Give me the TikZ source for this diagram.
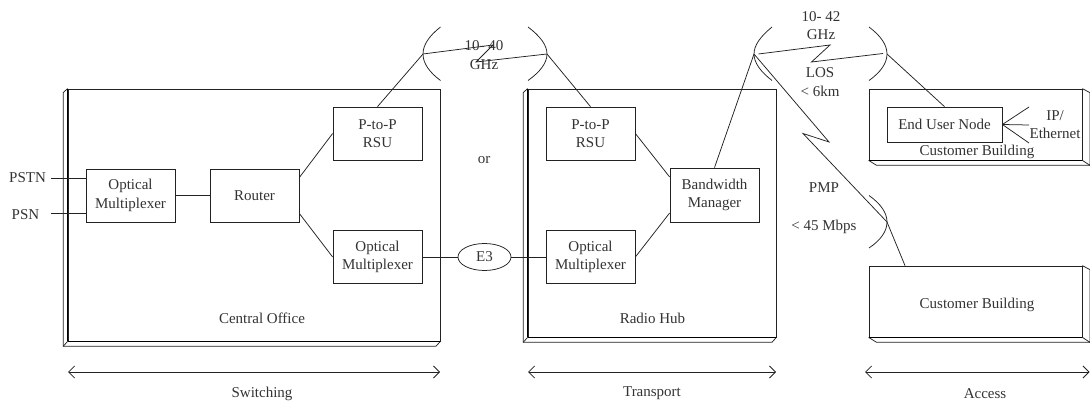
\documentclass[tikz,border=0pt]{standalone}
\usepackage{fontspec}
\setmainfont{Liberation Serif}
\usetikzlibrary{arrows.meta,shapes.geometric,positioning}
\definecolor{ink}{HTML}{222222}
\definecolor{txt}{HTML}{333333}
\tikzset{
  line/.style={draw=ink,line width=0.75pt},
  box/.style={line,rectangle,inner sep=0pt,text=txt,align=center,font=\lbl},
  wall/.style={line,rectangle,inner sep=0pt,text=txt,align=center,font=\lbl},
  heavy/.style={draw=black,line width=1.3pt},
  lab/.style={inner sep=0pt,text=txt,align=center,font=\lbl},
  span/.style={draw=ink,line width=0.75pt,{Straight Barb[length=6pt,width=12pt,line width=0.75pt]}-{Straight Barb[length=6pt,width=12pt,line width=0.75pt]}}
}
\newcommand{\lbl}{\fontsize{15}{18.5}\selectfont}
% left-bevelled building: main node name #1
\newcommand{\leftbevel}[1]{%
  \draw[line] ([xshift=-4.5pt,yshift=-4pt]#1.north west) -- (#1.north west);
  \draw[line] ([xshift=-4.5pt,yshift=-4pt]#1.north west) -- ([xshift=-4.5pt,yshift=-5pt]#1.south west) -- ([yshift=-5pt,xshift=0pt]#1.south west) -- ([xshift=-4.5pt,yshift=-5pt]#1.south east) -- (#1.south east);
  \draw[line] ([xshift=-4.5pt,yshift=-5pt]#1.south west) -- (#1.south west);
  \draw[draw=black,line width=1pt] (#1.north west) -- (#1.south west);
  \draw[heavy] (#1.south west) -- (#1.south east);
}
\newcommand{\rightbevel}[1]{%
  \draw[line] (#1.north east) -- ([xshift=7.5pt,yshift=-4pt]#1.north east) -- ([xshift=7.5pt,yshift=-5pt]#1.south east) -- (#1.south east);
  \draw[line] (#1.south west) -- ([xshift=8pt,yshift=-5pt]#1.south west) -- ([xshift=7.5pt,yshift=-5pt]#1.south east);
  \draw[heavy] (#1.south west) -- (#1.south east);
}
\begin{document}
\begin{tikzpicture}[x=1pt,y=-1pt]
\useasboundingbox (0,0) rectangle (1090,403);

% buildings
\node[wall,minimum width=372pt,minimum height=252pt] (co) at (254,215) {};
\node[wall,minimum width=248pt,minimum height=248pt] (hub) at (652,213) {};
\node[wall,minimum width=213pt,minimum height=71pt] (cb1) at (975.5,124.5) {};
\node[wall,minimum width=213pt,minimum height=71pt] (cb2) at (975.5,301.5) {};
\leftbevel{co}
\leftbevel{hub}
\rightbevel{cb1}
\rightbevel{cb2}

% inner boxes
\node[box,minimum width=89pt,minimum height=53pt] (mux1) at (130.5,195.5) {Optical\\Multiplexer};
\node[box,minimum width=89pt,minimum height=53pt] (router) at (254.5,195.5) {Router};
\node[box,minimum width=89pt,minimum height=53pt] (rsu1) at (377.5,133.5) {P-to-P\\RSU};
\node[box,minimum width=89pt,minimum height=53pt] (mux2) at (377.5,257) {Optical\\Multiplexer};
\node[box,minimum width=89pt,minimum height=53pt] (rsu2) at (590.5,133.5) {P-to-P\\RSU};
\node[box,minimum width=89pt,minimum height=53pt] (mux3) at (590.5,257) {Optical\\Multiplexer};
\node[box,minimum width=89pt,minimum height=54pt] (bw) at (714.5,195) {Bandwidth\\Manager};
\node[box,minimum width=115pt,minimum height=35pt] (eun) at (944.5,124.5) {End User Node};
\node[line,ellipse,inner sep=0pt,minimum width=53pt,minimum height=27pt,text=txt,font=\lbl] (e3) at (484.5,257) {E3};

% free ends and antenna points
\coordinate (pstn) at (51,178);
\coordinate (psn) at (51,213);
\coordinate (a1) at (423,54);
\coordinate (a2) at (547,54);
\coordinate (a3) at (754,54);
\coordinate (a4) at (887,54);
\coordinate (a5) at (887,222);
\coordinate (ip1) at (1029,107);
\coordinate (ip2) at (1029,125);
\coordinate (ip3) at (1029,143);

% dishes
\draw[line] (440.5,27) .. controls (429,36) and (423,45) .. (a1) .. controls (423,63) and (429,72) .. (440.5,80.5);
\draw[line] (528,27) .. controls (540,36) and (547,45) .. (a2) .. controls (547,63) and (540,72) .. (528,80.5);
\draw[line] (772,27) .. controls (761,36) and (754,45) .. (a3) .. controls (754,63) and (761,72) .. (772,80.5);
\draw[line] (869,27) .. controls (881,36) and (887,45) .. (a4) .. controls (887,63) and (881,72) .. (869,80.5);
\draw[line] (869,195.5) .. controls (881,204) and (887,213) .. (a5) .. controls (887,231) and (881,240) .. (869,248);

% connectors
\draw[line] (pstn) -- ([yshift=17.5pt]mux1.west);
\draw[line] (psn) -- ([yshift=-17.5pt]mux1.west);
\draw[line] (mux1) -- (router);
\draw[line] ([yshift=18pt]router.east) -- (rsu1.west);
\draw[line] ([yshift=-18pt]router.east) -- (mux2.west);
\draw[line] (mux2) -- (e3);
\draw[line] (e3) -- (mux3);
\draw[line] (mux3.east) -- ([yshift=-18pt]bw.west);
\draw[line] (rsu2.east) -- ([yshift=18pt]bw.west);
\draw[line] (bw.north) -- (a3);
\draw[line] (rsu1.north) -- (a1);
\draw[line] (rsu2.north) -- (a2);
\draw[line] (eun.north) -- (a4);
\draw[line] (cb2.north west -| 905,0) -- (a5);
\draw[line] (eun.east) -- (ip1);
\draw[line] (eun.east) -- (ip2);
\draw[line] (eun.east) -- (ip3);

% radio zigzags
\draw[line] (a1) -- (493,45) -- (476,62) -- (a2);
\draw[line] (758.5,54) -- (830,45) -- (811.5,62) -- (883,53.5);
\draw[line] (a3) -- (829,142) -- (803,133.5) -- (a5);

% labels
\node[lab] (lpstn) at (27.5,177.5) {PSTN};
\node[lab] (lpsn) at (25.5,214.5) {PSN};
\node[lab] (lor) at (484,160.5) {or};
\node[lab] (lco) at (262,318.5) {Central Office};
\node[lab] (lhub) at (652.5,318.5) {Radio Hub};
\node[lab] (l1040) at (484,55) {10- 40\\GHz};
\node[lab] (l1042) at (821,25.5) {10- 42\\GHz};
\node[lab] (llos) at (820,82) {LOS\\< 6km};
\node[lab] (lpmp) at (824,187.5) {PMP};
\node[lab] (lmbps) at (824,226.5) {< 45 Mbps};
\node[lab] (lip) at (1055,124.5) {IP/\\Ethernet};
\node[lab] (lcb1) at (977,152) {Customer Building};
\node[lab] (lcb2) at (977,305) {Customer Building};
\node[lab] (lsw) at (262,393.5) {Switching};
\node[lab] (ltr) at (652,393.5) {Transport};
\node[lab] (lac) at (985,393.5) {Access};

% extent arrows
\coordinate (s1) at (68,372);
\coordinate (s2) at (440,372);
\coordinate (t1) at (528,372);
\coordinate (t2) at (776,372);
\coordinate (c1) at (865,372);
\coordinate (c2) at (1089.5,372);
\draw[span] (s1) -- (s2);
\draw[span] (t1) -- (t2);
\draw[span] (c1) -- (c2);
\end{tikzpicture}
\end{document}
